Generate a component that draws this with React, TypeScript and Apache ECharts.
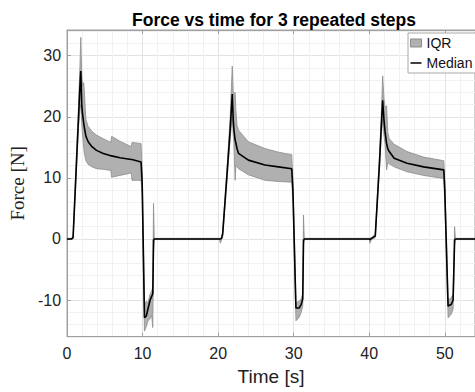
import React, { useEffect, useRef } from "react";
import * as echarts from "echarts";

// time [s]
const timeS = [
  0, 0.6, 0.8, 1.2, 1.5, 1.7, 1.82, 1.95, 2.05, 2.2, 2.3, 2.5, 2.8, 3.3, 3.9, 4.8, 5.8, 5.9, 7.0, 8.5, 8.6, 9.8,
  9.95, 10.25, 10.5, 10.7, 11.0, 11.2, 11.35, 11.45, 11.55, 20.2, 20.3, 20.45,
  20.6, 21.2, 21.6, 21.87, 22.0, 22.08, 22.25, 22.35, 22.5, 22.7, 24.0, 26.2, 28.0, 29.74,
  29.9, 30.3, 30.74, 31.0, 31.2, 31.3, 31.4, 40.0, 40.1, 40.3,
  40.8, 41.35, 41.6, 41.78, 41.95, 42.1, 42.3, 42.45, 42.65, 43.3, 45.0, 47.2, 49.87,
  50.0, 50.44, 50.87, 51.1, 51.3, 51.4, 54
];
// median force [N]
const medianN = [
  0, 0, 0.2, 11.1, 19.3, 24.8, 27.5, 22, 20.5, 19, 18.2, 16.8, 15.9, 15.1, 14.5, 14.0, 13.6, 13.6, 13.3, 13.0, 13.0, 12.6,
  9, -12.9, -12.6, -11.5, -10.0, -9.4, -9.0, -0.2, 0, 0, 0, 0.1,
  0.8, 11, 18, 23.7, 19.5, 18.0, 16.2, 15.7, 14.8, 14.0, 12.9, 12.1, 11.8, 11.5,
  8, -11.3, -11.3, -10.7, -9.8, -0.3, 0, 0, -0.1, 0.1,
  0.5, 12.3, 18.5, 22.7, 19.5, 17.5, 15.6, 14.8, 14.3, 13.2, 12.4, 11.8, 11.3,
  8, -11.0, -10.7, -10, -0.2, 0, 0
];
// IQR lower bound [N]
const iqrLowN = [
  -0.1, -0.1, 0, 10, 18, 21, 22, 19, 17, 15, 14, 12.8, 12.2, 11.8, 11.5, 11.4, 11.2, 10.1, 10.4, 10.8, 9.6, 9.6,
  7, -15.1, -14.3, -13.5, -13, -12.5, -14.5, -2, -0.1, -0.1, -0.7, -0.1,
  0.3, 10, 16.5, 20, 17, 16, 9.6, 12, 11.8, 11.5, 10.5, 9.6, 9.4, 9.3,
  6, -13.4, -12.8, -12, -11, -1, -0.1, -0.1, -0.7, -0.1,
  0.2, 11.3, 17, 19.5, 17, 15.5, 11.3, 12.5, 12.3, 11.8, 11.0, 10.4, 9.9,
  6, -12.9, -12.3, -11.5, -1, -0.1, -0.1
];
// IQR upper bound [N]
const iqrHighN = [
  0.1, 0.1, 0.4, 12.2, 21, 28, 33, 27, 25, 25.6, 24, 19.5, 18.4, 17.6, 17.0, 16.4, 15.8, 16.8, 16.0, 15.1, 15.8, 15.6,
  11, -11, -10.2, -10.5, -9, -8.5, -8, 5.8, 0.1, 0.1, 0.1, 0.2,
  1.2, 12, 20, 28.3, 24, 23.8, 24.0, 21, 18.6, 17.8, 15.9, 14.8, 14.2, 13.8,
  9.5, -10.5, -10.2, -9.8, -8.8, 3.9, 0.1, 0.1, 0.1, 0.2,
  0.8, 13.3, 20.5, 26.7, 23, 21.5, 21.8, 17.5, 16.4, 15.5, 14.3, 13.4, 12.8,
  9.5, -10, -9.6, -9, 2.0, 0.1, 0.1
];

const FONT = "'Liberation Sans', Arial, Helvetica, sans-serif";
const LINE_ICON = "path://M0,0L0.01,0L0.01,0.01Z M0,3.3H12V4.7H0Z M0,8L0.01,8L0.01,7.99Z";

export default function App() {
  const ref = useRef<HTMLDivElement>(null);
  useEffect(() => {
    if (!ref.current) return;
    const chart = echarts.init(ref.current, null, { renderer: "svg" });
    const bandData = timeS.map((t, i) => [t, iqrLowN[i], iqrHighN[i]]);
    const medData = timeS.map((t, i) => [t, medianN[i]]);
    const axisGray = "#a0a0a0";
    chart.setOption({
      animation: false,
      backgroundColor: "#ffffff",
      title: {
        text: "Force vs time for 3 repeated steps",
        left: 127,
        top: 6,
        textStyle: { fontFamily: FONT, fontSize: 17.5, fontWeight: "bold", color: "#000" },
      },
      legend: {
        orient: "vertical",
        left: 408,
        top: 33,
        padding: [2, 30, 2, 2],
        itemGap: 4,
        itemWidth: 11,
        itemHeight: 8,
        backgroundColor: "#ffffff",
        borderColor: "#a8a8a8",
        borderWidth: 1,
        borderRadius: 0,
        textStyle: { fontFamily: FONT, fontSize: 14, color: "#111", lineHeight: 16 },
        data: [
          { name: "IQR", icon: "rect", itemStyle: { color: "#b0b0b0", borderColor: "#8c8c8c", borderWidth: 1 } },
          { name: "Median", icon: LINE_ICON, itemStyle: { color: "#000", borderWidth: 0 } },
        ],
      },
      grid: { left: 63.3, top: 30, width: 415.8, height: 306.7, show: true, borderColor: axisGray, borderWidth: 1, backgroundColor: "#fff" },
      xAxis: [
        {
          type: "value",
          min: 0,
          max: 54,
          splitNumber: 5,
          name: "Time [s]",
          nameLocation: "middle",
          nameGap: 30,
          nameTextStyle: { fontFamily: FONT, fontSize: 19, color: "#222" },
          axisLine: { show: true, onZero: false, lineStyle: { color: axisGray } },
          axisTick: { show: true, inside: true, length: 4, lineStyle: { color: axisGray } },
          axisLabel: { fontFamily: FONT, fontSize: 16, color: "#222", margin: 9, showMaxLabel: false },
          splitLine: { show: true, lineStyle: { color: "#e3e3e3", width: 1 } },
          minorTick: { show: false, splitNumber: 5 },
          minorSplitLine: { show: true, lineStyle: { color: "#f1f1f1", width: 1 } },
        },
        {
          type: "value",
          position: "top",
          min: 0,
          max: 54,
          splitNumber: 5,
          axisLine: { show: true, onZero: false, lineStyle: { color: axisGray } },
          axisTick: { show: true, inside: true, length: 4, lineStyle: { color: axisGray } },
          axisLabel: { show: false },
          splitLine: { show: false },
        },
      ],
      yAxis: {
        type: "value",
        min: -16,
        max: 34.2,
        splitNumber: 5,
        name: "Force [N]",
        nameLocation: "middle",
        nameGap: 36,
        nameTextStyle: { fontFamily: "'Liberation Serif', 'Times New Roman', serif", fontSize: 19, color: "#222" },
        axisLine: { show: true, onZero: false, lineStyle: { color: axisGray } },
        axisTick: { show: true, inside: true, length: 4, lineStyle: { color: axisGray } },
        axisLabel: { fontFamily: FONT, fontSize: 16, color: "#222", margin: 6, showMinLabel: false, showMaxLabel: false },
        splitLine: { show: true, lineStyle: { color: "#e3e3e3", width: 1 } },
        minorTick: { show: false, splitNumber: 5 },
        minorSplitLine: { show: true, lineStyle: { color: "#f1f1f1", width: 1 } },
      },
      series: [
        {
          name: "IQR",
          type: "custom",
          data: bandData,
          silent: true,
          itemStyle: { color: "#b0b0b0" },
          encode: { x: 0, y: [1, 2] },
          renderItem: (params: any, api: any) => {
            if (params.dataIndex !== 0) return null;
            const upper: number[][] = [];
            const lower: number[][] = [];
            for (let i = 0; i < bandData.length; i++) {
              upper.push(api.coord([bandData[i][0], bandData[i][2]]));
              lower.push(api.coord([bandData[i][0], bandData[i][1]]));
            }
            const pts = upper.concat(lower.reverse());
            return {
              type: "polygon",
              shape: { points: pts },
              style: { fill: "#b0b0b0", stroke: "#8c8c8c", lineWidth: 0.8 },
            };
          },
          z: 2,
        },
        {
          name: "Median",
          type: "line",
          data: medData,
          symbol: "none",
          itemStyle: { color: "#000" },
          lineStyle: { color: "#000", width: 1.6 },
          z: 3,
        },
      ],
    });
    return () => chart.dispose();
  }, []);
  return <div ref={ref} style={{ position: "fixed", left: 0, top: 0, width: 475, height: 392 }} />;
}
